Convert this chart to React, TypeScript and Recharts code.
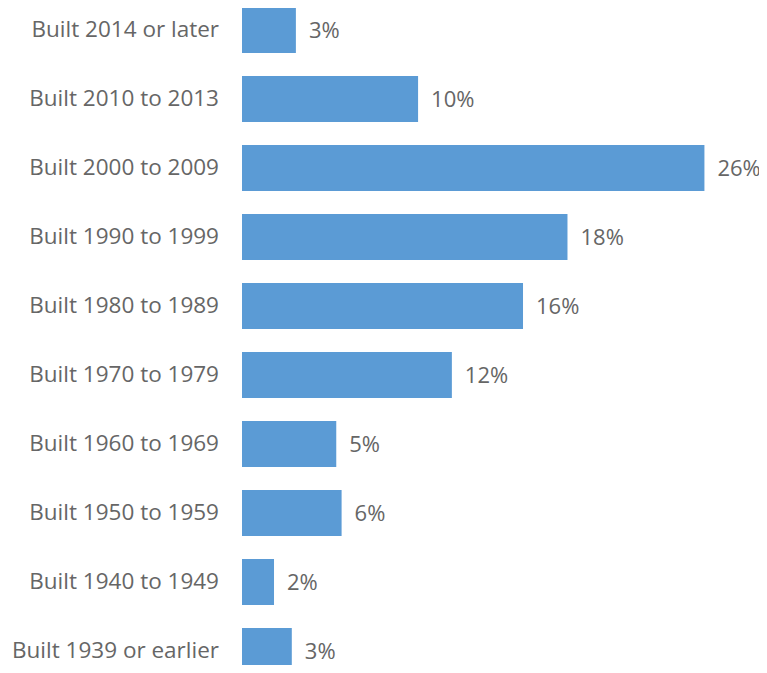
import React from "react";
import { BarChart, Bar, XAxis, YAxis, LabelList } from "recharts";

const categories = [
  "Built 2014 or later",
  "Built 2010 to 2013",
  "Built 2000 to 2009",
  "Built 1990 to 1999",
  "Built 1980 to 1989",
  "Built 1970 to 1979",
  "Built 1960 to 1969",
  "Built 1950 to 1959",
  "Built 1940 to 1949",
  "Built 1939 or earlier",
];

// share of housing units (%)
const shares = [3.03, 9.9, 26.0, 18.3, 15.8, 11.8, 5.3, 5.6, 1.8, 2.8];

const data = categories.map((name, i) => ({ name, share: shares[i] }));

const font = "'Open Sans', sans-serif";
const textColor = "#666666";

export default function App() {
  return (
    <div style={{ margin: -8, width: 767, height: 673, overflow: "hidden", background: "#fff" }}>
      <div style={{ marginTop: -5 }}>
        <BarChart
          width={767}
          height={690}
          data={data}
          layout="vertical"
          margin={{ top: 0, right: 27, bottom: 0, left: 0 }}
        >
          <XAxis type="number" domain={[0, 28]} hide />
          <YAxis
            type="category"
            dataKey="name"
            width={242}
            axisLine={false}
            tickLine={false}
            tickSize={0}
            tickMargin={23}
            tick={{ fill: textColor, fontSize: 22.5, fontFamily: font }}
          />
          <Bar dataKey="share" fill="#5B9BD5" barSize={46} isAnimationActive={false}>
            <LabelList
              dataKey="share"
              position="right"
              offset={13}
              formatter={(v: any) => `${Math.round(Number(v))}%`}
              style={{ fill: textColor, fontSize: 22, fontFamily: font }}
            />
          </Bar>
        </BarChart>
      </div>
    </div>
  );
}
